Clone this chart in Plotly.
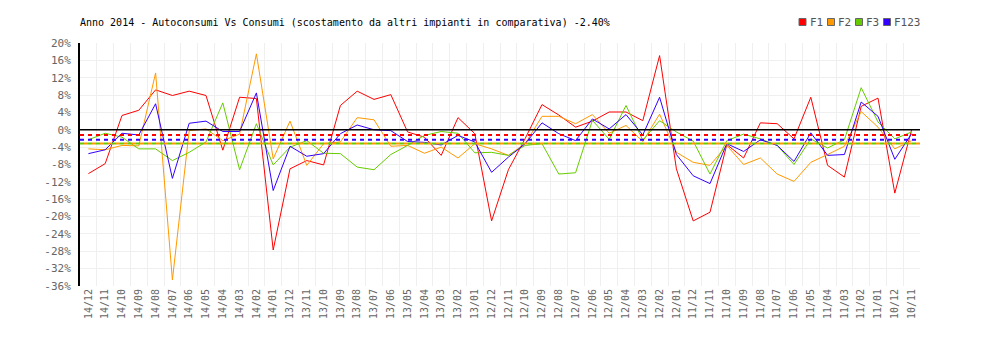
import plotly.graph_objects as go

# ---- data -------------------------------------------------------------
mesi = ["14/12", "14/11", "14/10", "14/09", "14/08", "14/07", "14/06", "14/05", "14/04", "14/03",
        "14/02", "14/01", "13/12", "13/11", "13/10", "13/09", "13/08", "13/07", "13/06", "13/05",
        "13/04", "13/03", "13/02", "13/01", "12/12", "12/11", "12/10", "12/09", "12/08", "12/07",
        "12/06", "12/05", "12/04", "12/03", "12/02", "12/01", "11/12", "11/11", "11/10", "11/09",
        "11/08", "11/07", "11/06", "11/05", "11/04", "11/03", "11/02", "11/01", "10/12", "10/11"]

f1 = [-10.1, -7.8, 3.3, 4.5, 9.2, 7.9, 8.9, 7.9, -4.7, 7.5,
      7.2, -27.7, -9.0, -7.1, -8.1, 5.6, 8.9, 7.0, 8.1, -0.5,
      -1.7, -5.9, 2.8, -0.9, -21.0, -9.2, -2.0, 5.8, 3.4, 0.6,
      2.0, 4.1, 4.1, 2.1, 17.1, -9.0, -21.0, -19.0, -3.4, -6.5,
      1.6, 1.4, -2.1, 7.5, -8.2, -10.9, 5.4, 7.3, -14.6, 0.0]

f2 = [-4.4, -4.6, -3.6, -3.7, 13.1, -34.6, -0.2, 0.2, -2.5, -1.0,
      17.5, -6.7, 2.0, -8.2, -3.2, -2.8, 2.8, 2.3, -3.8, -3.6,
      -5.4, -4.0, -6.5, -3.2, -4.4, -5.9, -3.2, 3.1, 3.1, 1.4,
      3.5, -0.8, 1.0, -2.7, 3.6, -5.2, -7.5, -8.2, -3.6, -8.0,
      -6.5, -10.2, -11.9, -7.5, -5.7, -3.8, 4.2, 0.6, -4.4, -2.5]

f3 = [-2.3, -0.8, -1.7, -4.4, -4.4, -7.1, -5.2, -2.8, 6.2, -9.2,
      1.4, -8.1, -4.0, -2.5, -5.4, -5.5, -8.6, -9.2, -5.7, -3.6,
      -1.3, -0.4, -0.8, -5.3, -5.2, -5.9, -3.6, -3.2, -10.2, -9.9,
      2.2, -2.2, 5.6, -2.4, 2.1, -0.5, -2.6, -10.2, -2.5, -1.0,
      -2.1, -3.6, -8.0, -2.1, -4.2, -2.3, 9.7, 1.8, -2.1, -0.5]

f123 = [-5.5, -4.6, -0.8, -1.2, 6.0, -11.2, 1.5, 2.0, -0.4, -0.4,
        8.5, -14.0, -3.8, -6.1, -5.5, -0.9, 1.1, 0.0, -0.2, -2.7,
        -2.9, -3.5, -1.3, -2.8, -9.8, -6.3, -3.2, 1.6, -0.9, -2.5,
        2.5, 0.2, 3.5, -1.2, 7.5, -5.7, -10.6, -12.4, -3.2, -5.0,
        -2.3, -3.6, -7.3, -0.7, -5.9, -5.7, 6.4, 3.1, -6.8, -0.9]

serie_nomi = ["F1", "F2", "F3", "F123"]
serie_valori = [f1, f2, f3, f123]
serie_colori = ["#ff0000", "#ff9900", "#66cc00", "#3300ff"]
medie = [-1.2, -3.15, -3.15, -2.3]   # dashed average lines

y_tick_vals = [20, 16, 12, 8, 4, 0, -4, -8, -12, -16, -20, -24, -28, -32, -36]
y_tick_text = [f"{v}%" for v in y_tick_vals]

titolo = "Anno 2014 - Autoconsumi Vs Consumi (scostamento da altri impianti in comparativa) -2.40%"

# ---- figure -----------------------------------------------------------
FONT = "DejaVu Sans Mono"
W, H = 1000, 340
ML, MR, MT, MB = 80, 80, 43, 54
PW, PH = W - ML - MR, H - MT - MB

fig = go.Figure()
for nome, vals, col in zip(serie_nomi, serie_valori, serie_colori):
    fig.add_trace(go.Scatter(x=mesi, y=vals, name=nome, mode="lines",
                             line=dict(color=col, width=1), showlegend=False))

shapes = []
# dashed average lines (green and orange alternate their dashes)
dash_patterns = ["4px,4px", "0px,4px,4px,0px", "4px,4px", "4px,4px"]
for idx in [0, 3, 2, 1]:
    shapes.append(dict(type="line", xref="paper", yref="y", x0=0, x1=1,
                       y0=medie[idx], y1=medie[idx], layer="above",
                       line=dict(color=serie_colori[idx], width=2, dash=dash_patterns[idx])))
# zero line
shapes.append(dict(type="line", xref="paper", yref="y", x0=0, x1=1, y0=0, y1=0,
                   layer="above", line=dict(color="#000000", width=1.5)))


def px_x(p):
    return (p - ML) / PW


def px_y(p):
    return (MT + PH - p) / PH


annotations = []
leg_x = [799, 827.5, 855.5, 883.5]
for nome, col, lx in zip(serie_nomi, serie_colori, leg_x):
    shapes.append(dict(type="rect", xref="paper", yref="paper",
                       x0=px_x(lx), x1=px_x(lx + 7), y0=px_y(25.5), y1=px_y(18.5),
                       fillcolor=col, line=dict(color="#666666", width=1)))
    annotations.append(dict(xref="paper", yref="paper", x=px_x(lx + 8.5), y=px_y(22),
                            xanchor="left", yanchor="middle", showarrow=False, text=nome,
                            font=dict(family=FONT, size=11, color="#555555")))

fig.update_layout(
    width=W, height=H,
    margin=dict(l=ML, r=MR, t=MT, b=MB, pad=0),
    paper_bgcolor="white", plot_bgcolor="white",
    showlegend=False,
    font=dict(family=FONT, size=10, color="#666666"),
    title=dict(text=titolo, x=ML / W, xanchor="left", y=1 - 22 / H, yanchor="middle",
               xref="container", yref="container",
               font=dict(family=FONT, size=10, color="#000000")),
    shapes=shapes,
    annotations=annotations,
)

fig.update_xaxes(type="category", range=[-0.5, len(mesi) - 0.5],
                 tickmode="linear", tick0=0, dtick=1, tickson="boundaries",
                 tickangle=-90, showgrid=True, gridcolor="#efefef", gridwidth=1,
                 showline=False, zeroline=False, ticks="",
                 tickfont=dict(family=FONT, size=10, color="#666666"))
fig.update_yaxes(range=[-36, 20], tickmode="array", tickvals=y_tick_vals, ticktext=y_tick_text,
                 showgrid=True, gridcolor="#efefef", gridwidth=1,
                 zeroline=False, showline=True, linecolor="#000000", linewidth=2,
                 ticks="", ticklabelstandoff=5,
                 tickfont=dict(family=FONT, size=11, color="#666666"))

fig.write_html("out.html", config={"displayModeBar": False},
               post_script="document.body.style.margin='0';")
